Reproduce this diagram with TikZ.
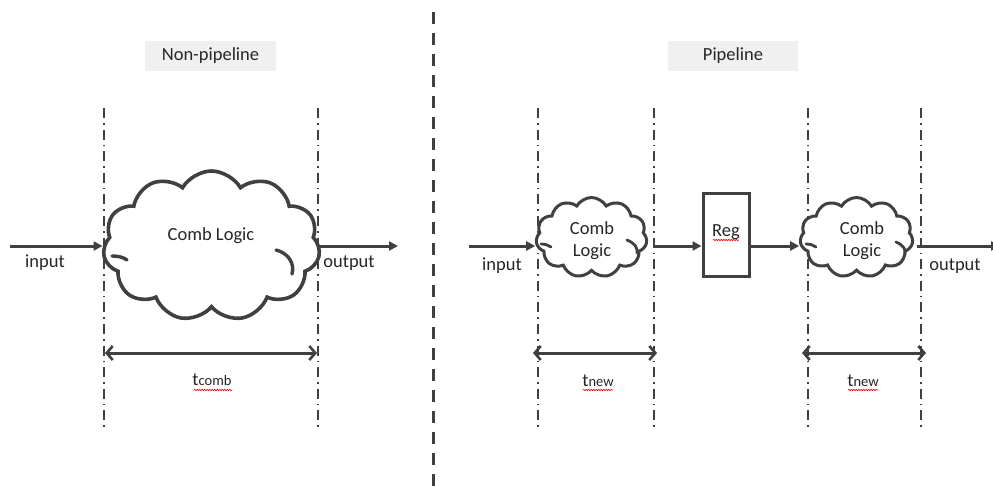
\documentclass[tikz,border=0pt]{standalone}
\usepackage{fontspec}
\setmainfont{Carlito}
\usetikzlibrary{shapes.symbols,arrows.meta,decorations.pathmorphing}
\definecolor{ink}{HTML}{404040}
\definecolor{txt}{HTML}{262626}
\definecolor{titlebg}{HTML}{F0F0F0}
\begin{document}
\begin{tikzpicture}[x=1pt,y=-1pt,
  flow/.style={ink,line width=3pt,-{Triangle[length=9pt,width=9pt]}},
  dimline/.style={ink,line width=3pt,{Straight Barb[length=6pt,width=14pt,line width=2.6pt]}-{Straight Barb[length=6pt,width=14pt,line width=2.6pt]}},
  guide/.style={ink,line width=1.7pt,dash pattern=on 10pt off 5pt on 1.6pt off 5pt},
  sepline/.style={ink,line width=3.2pt,dash pattern=on 12pt off 9pt},
  cloudbox/.style={cloud,draw=ink,fill=white,line width=3.6pt,cloud puffs=11,cloud puff arc=120,inner sep=0pt},
  smallcloud/.style={cloudbox,line width=3pt},
  curl/.style={ink,line width=3.4pt,line cap=round},
  lbl/.style={font=\fontsize{18.5}{20}\selectfont,text=txt,inner sep=0pt,anchor=base},
  titlebox/.style={fill=titlebg,minimum height=30pt,inner sep=0pt,font=\fontsize{18.5}{20}\selectfont,text=txt},
  spell/.style={red,line width=0.6pt,decorate,decoration={snake,segment length=2.5pt,amplitude=0.7pt}}
]
\clip (0,0) rectangle (993,485);
\fill[white] (0,0) rectangle (993,485);

% titles
\node[titlebox,minimum width=131pt] (t1) at (210.5,56) {Non-pipeline};
\node[titlebox,minimum width=130pt] (t2) at (733,56) {Pipeline};

% separator
\coordinate (s1) at (433.5,12);
\coordinate (s2) at (433.5,492);
\draw[sepline] (s1) -- (s2);

% guides
\foreach \n/\x in {ga/104,gb/318,gc/538,gd/654,ge/808,gf/921}{
  \coordinate (\n top) at (\x,108);
  \coordinate (\n bot) at (\x,430);
  \draw[guide] (\n top) -- (\n bot);
}

% ---------- Non-pipeline ----------
\node[cloudbox,minimum width=217pt,minimum height=150pt,aspect=1.5] (c0) at (211.5,246) {};
\draw[curl] (112,256) .. controls (118,256) and (123,257) .. (127,260);
\draw[curl] (276,250) .. controls (288,253) and (295,263) .. (292,274);
\node[lbl] (c0t) at (211,240) {Comb Logic};

\coordinate (in0) at (10,246);
\coordinate (out0) at (398,246);
\draw[flow] (in0) -- (c0.west |- in0);
\draw[flow] (c0.east |- out0) -- (out0);
\node[lbl] (lin0) at (45,267) {input};
\node[lbl] (lout0) at (349,267) {output};

\coordinate (d0a) at (105,353);
\coordinate (d0b) at (317,353);
\draw[dimline] (d0a) -- (d0b);
\node[lbl] (tc) at (212,385) {t{\fontsize{14.5}{14}\selectfont comb}};
\draw[spell] (194,390) -- (232,390);

% ---------- Pipeline ----------
\node[smallcloud,minimum width=111pt,minimum height=80pt,aspect=1.5] (c1) at (591.5,237.5) {};
\node[smallcloud,minimum width=113pt,minimum height=80pt,aspect=1.5] (c2) at (856.5,237.5) {};
\draw[curl,line width=2.8pt] (541,244) .. controls (545,244) and (548,245) .. (551,247);
\draw[curl,line width=2.8pt] (627,240) .. controls (634,243) and (638,247) .. (637,253);
\draw[curl,line width=2.8pt] (806,244) .. controls (810,244) and (813,245) .. (816,247);
\draw[curl,line width=2.8pt] (896,242) .. controls (903,245) and (906,249) .. (905,254);
\node[lbl] (c1a) at (592,234) {Comb};
\node[lbl] (c1b) at (592,256) {Logic};
\node[lbl] (c2a) at (862,234) {Comb};
\node[lbl] (c2b) at (862,256) {Logic};

\node[draw=ink,line width=3pt,minimum width=46pt,minimum height=83pt,inner sep=0pt] (reg) at (726,234.5) {};
\node[lbl] (regt) at (726,236) {Reg};
\draw[spell] (713,240) -- (739,240);

\coordinate (in1) at (469,246);
\coordinate (m1) at (653,246);
\coordinate (o1) at (917,246);
\coordinate (o2) at (1000,246);
\draw[flow] (in1) -- (c1.west |- in1);
\draw[flow] (m1) -- (reg.west |- m1);
\draw[flow] (reg.east |- m1) -- (c2.west |- m1);
\draw[flow] (o1) -- (o2);
\node[lbl] (lin1) at (502,270) {input};
\node[lbl] (lout1) at (955,270) {output};

\coordinate (d1a) at (533,353);
\coordinate (d1b) at (657,353);
\coordinate (d2a) at (802,353);
\coordinate (d2b) at (926,353);
\draw[dimline] (d1a) -- (d1b);
\draw[dimline] (d2a) -- (d2b);
\node[lbl] (tn1) at (598,386) {t{\fontsize{14.5}{14}\selectfont new}};
\node[lbl] (tn2) at (863,386) {t{\fontsize{14.5}{14}\selectfont new}};
\draw[spell] (583,390) -- (613,390);
\draw[spell] (848,390) -- (878,390);
\end{tikzpicture}
\end{document}
